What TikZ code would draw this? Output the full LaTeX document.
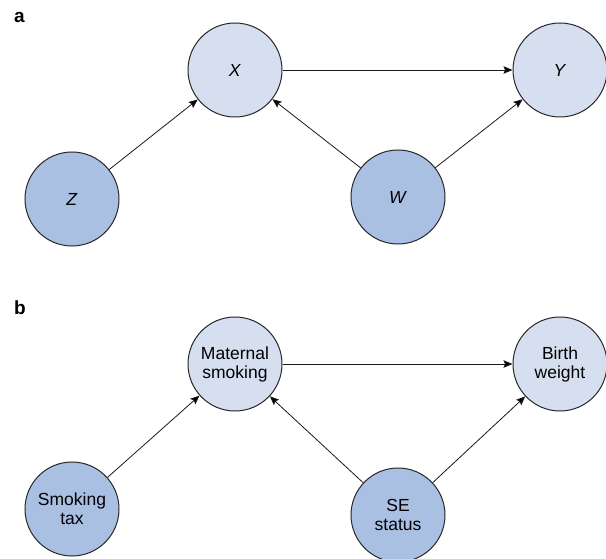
\documentclass[tikz,border=0pt]{standalone}
\usepackage{fontspec}
\setmainfont{Liberation Sans}
\usetikzlibrary{positioning, arrows.meta}

\definecolor{lightnode}{RGB}{214,223,240}
\definecolor{darknode}{RGB}{170,192,227}

\begin{document}
\begin{tikzpicture}[x=1pt, y=-1pt, on grid,
    var/.style={circle, draw=black!85, line width=1pt, minimum size=94pt, inner sep=0pt, align=center, font=\fontsize{17.5}{19}\selectfont},
    outcome/.style={var, fill=lightnode},
    instr/.style={var, fill=darknode},
    panel/.style={anchor=base west, inner sep=0pt, font=\fontsize{19}{19}\selectfont\bfseries},
    >={Stealth[length=9pt, width=7.5pt, inset=1.5pt]}]
    \useasboundingbox (0,0) rectangle (606,559);

    % a
    \node[panel] (la) at (14,23) {a};
    \node[outcome] (x) at (235,70) {\textit{X}};
    \node[outcome] (y) [right=325pt of x] {\textit{Y}};
    \node[instr] (z) [below left=129pt and 163pt of x] {\textit{Z}};
    \node[instr] (w) [below right=127pt and 163pt of x] {\textit{W}};

    \path[->, line width=0.8pt, draw=black!90]
    (z) edge (x)
    (w) edge (x)
    (w) edge (y)
    (x) edge (y);

    % b
    \node[panel] (lb) at (14,315) {b};
    \node[outcome] (smoke) at (235,364) {Maternal\\smoking};
    \node[outcome] (bw) [right=325pt of smoke] {Birth\\weight};
    \node[instr] (tax) [below left=145pt and 163pt of smoke] {Smoking\\tax};
    \node[instr] (se) [below right=151pt and 163pt of smoke] {SE\\status};

    \path[->, line width=0.8pt, draw=black!90]
    (tax) edge (smoke)
    (se) edge (smoke)
    (se) edge (bw)
    (smoke) edge (bw);
\end{tikzpicture}
\end{document}
